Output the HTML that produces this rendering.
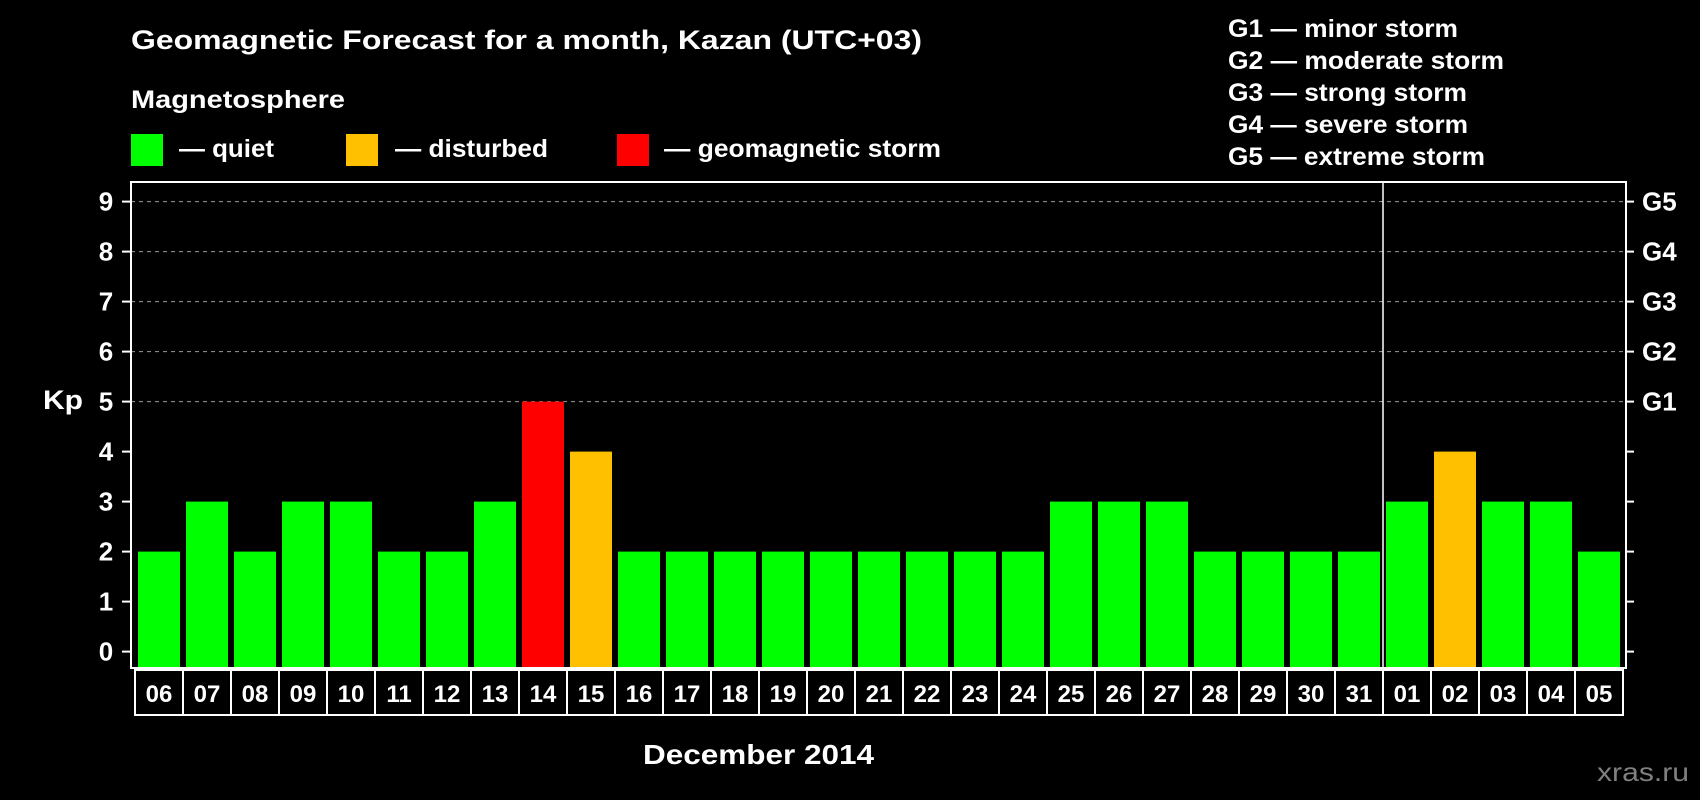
<!DOCTYPE html>
<html><head><meta charset="utf-8"><style>
html,body{margin:0;padding:0;background:#000;}
svg{display:block;font-family:"Liberation Sans",Arial,sans-serif;font-weight:bold;}
</style></head><body>
<svg id="chart" width="1700" height="800" viewBox="0 0 1700 800">
<rect x="0" y="0" width="1700" height="800" fill="#000"/>
<text x="131" y="49" fill="#fff" font-size="27" textLength="791" lengthAdjust="spacingAndGlyphs">Geomagnetic Forecast for a month, Kazan (UTC+03)</text>
<text x="131" y="108" fill="#fff" font-size="25" textLength="214" lengthAdjust="spacingAndGlyphs">Magnetosphere</text>
<g>
<rect x="131" y="134" width="32" height="32" fill="#00ff00"/><text x="179" y="157" fill="#fff" font-size="25" textLength="95" lengthAdjust="spacingAndGlyphs">— quiet</text></g>
<g>
<rect x="346" y="134" width="32" height="32" fill="#ffc000"/><text x="395" y="157" fill="#fff" font-size="25" textLength="153" lengthAdjust="spacingAndGlyphs">— disturbed</text></g>
<g>
<rect x="617" y="134" width="32" height="32" fill="#ff0000"/><text x="664" y="157" fill="#fff" font-size="25" textLength="277" lengthAdjust="spacingAndGlyphs">— geomagnetic storm</text></g>
<g fill="#fff" font-size="25">
<text x="1228" y="37" textLength="230" lengthAdjust="spacingAndGlyphs">G1 — minor storm</text>
<text x="1228" y="69" textLength="276" lengthAdjust="spacingAndGlyphs">G2 — moderate storm</text>
<text x="1228" y="101" textLength="239" lengthAdjust="spacingAndGlyphs">G3 — strong storm</text>
<text x="1228" y="133" textLength="240" lengthAdjust="spacingAndGlyphs">G4 — severe storm</text>
<text x="1228" y="165" textLength="257" lengthAdjust="spacingAndGlyphs">G5 — extreme storm</text>
</g>
<text x="43" y="409" fill="#fff" font-size="27" textLength="40" lengthAdjust="spacingAndGlyphs">Kp</text>
<text x="643" y="764" fill="#fff" font-size="28" textLength="231" lengthAdjust="spacingAndGlyphs">December 2014</text>
<text x="1597" y="781" fill="#808080" font-size="26" font-weight="normal" textLength="92" lengthAdjust="spacingAndGlyphs">xras.ru</text>
<g id="plot"></g>
</svg>
<script>
const days = ["06","07","08","09","10","11","12","13","14","15","16","17","18","19","20","21","22","23","24","25","26","27","28","29","30","31","01","02","03","04","05"];
const kpValues = [2,3,2,3,3,2,2,3,5,4,2,2,2,2,2,2,2,2,2,3,3,3,2,2,2,2,3,4,3,3,2];
const yTicks = [0,1,2,3,4,5,6,7,8,9];
const gLabels = ["G1","G2","G3","G4","G5"];
const gLevels = [5,6,7,8,9];
const monthBreakIndex = 26;

const NS="http://www.w3.org/2000/svg";
const plot=document.getElementById('plot');
const L=131,R=1626,T=182,B=668;
const y0=651.6,unit=50;
const bx0=138,pitch=48,bw=42;
function yS(v){return y0-v*unit;}
function xS(i){return bx0+i*pitch;}
function mk(tag,attrs,parent){const e=document.createElementNS(NS,tag);for(const k in attrs)e.setAttribute(k,attrs[k]);(parent||plot).appendChild(e);return e;}
function color(v){return v>=5?"#ff0000":(v>=4?"#ffc000":"#00ff00");}

gLevels.forEach(v=>{
  const g=mk('line',{x1:L,x2:R,y1:yS(v),y2:yS(v),stroke:"#9a9a9a","stroke-width":1,"stroke-dasharray":"4,4"});
  
  
});
kpValues.forEach((v,i)=>{
  const r=mk('rect',{x:xS(i),y:yS(v),width:bw,height:B-1-yS(v),fill:color(v)});
  
  
});
const fr=mk('rect',{x:L,y:T,width:R-L,height:B-T,fill:"none",stroke:"#fff","stroke-width":2});


const dv=mk('line',{x1:xS(monthBreakIndex)-3,x2:xS(monthBreakIndex)-3,y1:T,y2:B,stroke:"#fff","stroke-width":1.5});


yTicks.forEach(v=>{
  const t=mk('line',{x1:122,x2:L,y1:yS(v),y2:yS(v),stroke:"#fff","stroke-width":2});
  
  
  const rt=mk('line',{x1:R,x2:1634,y1:yS(v),y2:yS(v),stroke:"#fff","stroke-width":2});
  
  
  const lb=mk('text',{x:106,y:yS(v)+9,fill:"#fff","font-size":26,"text-anchor":"middle"});
  lb.textContent=v;
  
  
});
gLabels.forEach((g,i)=>{
  const lb=mk('text',{x:1642,y:yS(gLevels[i])+9,fill:"#fff","font-size":26});
  lb.textContent=g;
  
  
});
days.forEach((d,i)=>{
  const c=mk('rect',{x:135+i*pitch,y:670,width:pitch,height:45,fill:"none",stroke:"#fff","stroke-width":2});
  
  
  const t=mk('text',{x:135+i*pitch+pitch/2,y:702,fill:"#fff","font-size":24,"text-anchor":"middle"});
  t.textContent=d;
  
  
});
</script>
</body></html>
